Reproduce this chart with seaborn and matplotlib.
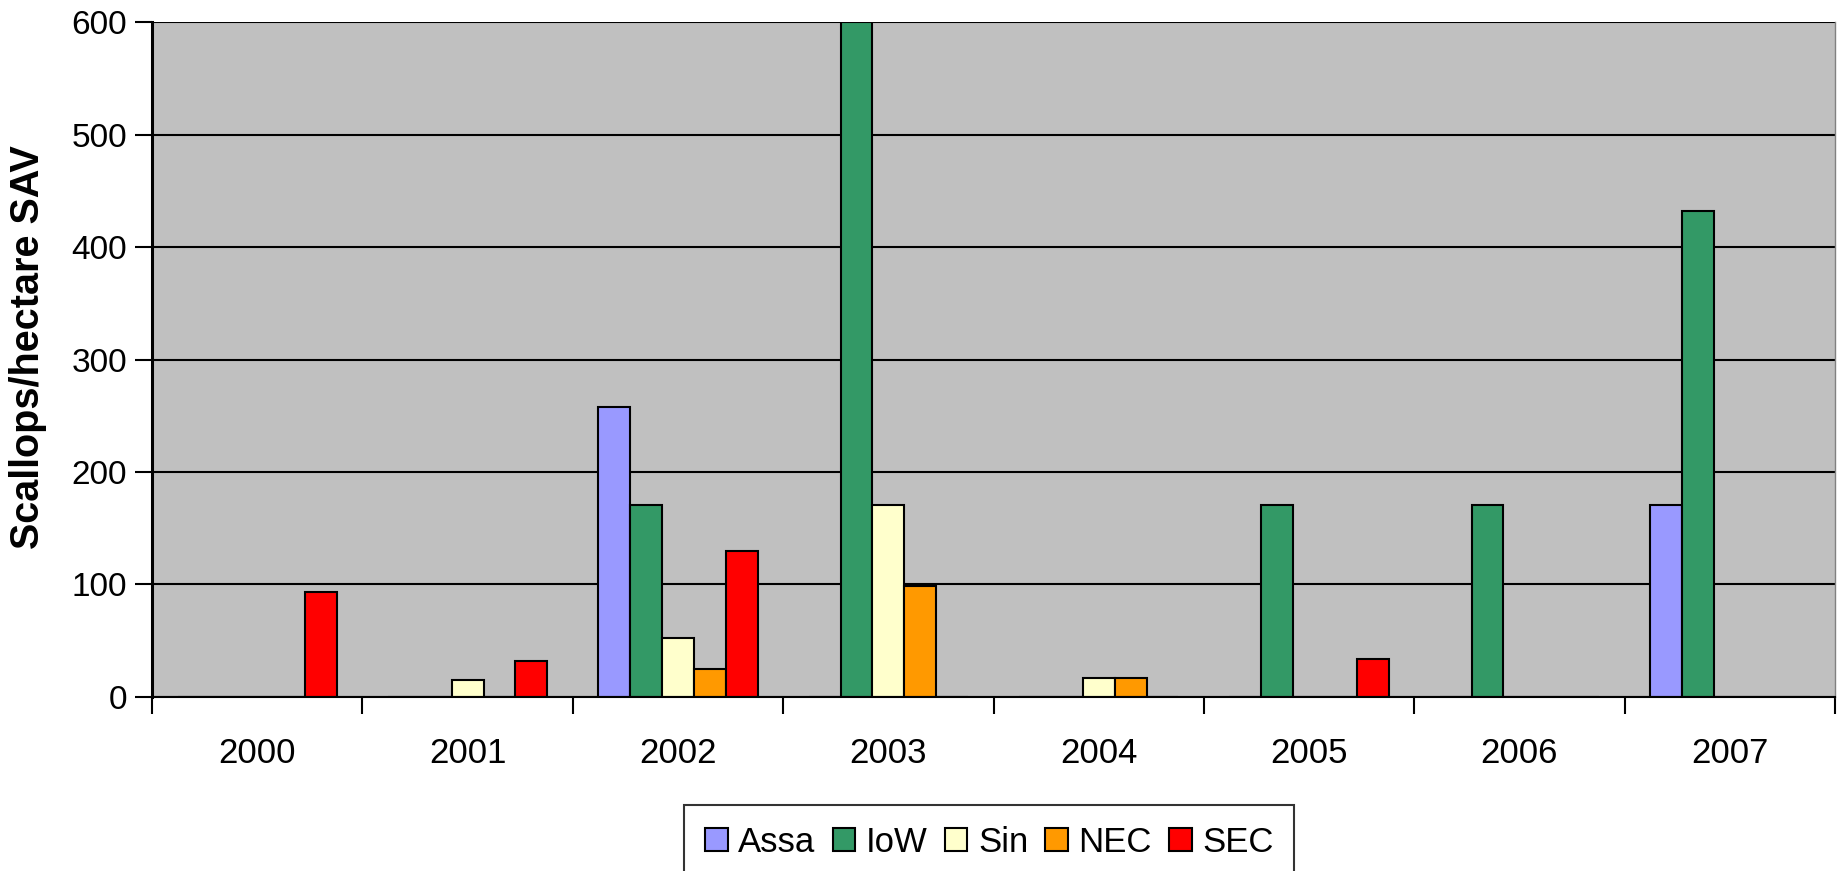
import numpy as np
import pandas as pd
import matplotlib
matplotlib.use('Agg')
import matplotlib.pyplot as plt
import seaborn as sns

fontsize = 24

years = ['2000', '2001', '2002', '2003', '2004', '2005', '2006', '2007']
sites = ['Assa', 'IoW', 'Sin', 'NEC', 'SEC']

assa = [0, 0, 258, 0, 0, 0, 0, 171]
iow = [0, 0, 171, 600, 0, 171, 171, 432]
sin = [0, 15, 52, 171, 17, 0, 0, 0]
nec = [0, 0, 25, 99, 17, 0, 0, 0]
sec = [93, 32, 130, 0, 0, 34, 0, 0]

colors = ['#9999FF', '#339966', '#FFFFCC', '#FF9900', '#FF0000']

rows = []
for site, vals in zip(sites, [assa, iow, sin, nec, sec]):
    for y, v in zip(years, vals):
        rows.append({'year': y, 'site': site, 'density': v})
df = pd.DataFrame(rows)

plt.rcParams['font.family'] = ['Liberation Sans', 'DejaVu Sans']
plt.rcParams['font.size'] = fontsize

fig = plt.figure(figsize=(18.39, 8.71), dpi=100)
ax = fig.add_axes([0.0827, 0.1998, 0.9151, 0.7749])
ax.set_facecolor('#C0C0C0')

sns.barplot(
    data=df, x='year', y='density', hue='site',
    order=years, hue_order=sites, palette=colors,
    width=0.758, edgecolor='black', linewidth=1.5,
    saturation=1, errorbar=None, ax=ax,
)

ax.set_ylim(0, 600)
ax.set_xlim(-0.5, 7.5)
ax.set_yticks(range(0, 601, 100))
ax.yaxis.grid(True, color='black', linewidth=1.5)
ax.set_axisbelow(True)

# year labels centred, ticks between the categories
ax.set_xticks(range(len(years)))
ax.set_xticklabels(years)
ax.set_xticks(np.arange(-0.5, len(years), 1.0), minor=True)
ax.tick_params(axis='x', which='major', length=0, pad=29, labelsize=25)
ax.tick_params(axis='x', which='minor', length=12, width=1.5, color='black', direction='out')
ax.tick_params(axis='y', length=12, width=1.5, direction='out', pad=6, labelsize=24)

ax.spines['top'].set_visible(False)
ax.spines['left'].set_linewidth(2.2)
ax.spines['bottom'].set_linewidth(1.5)
ax.spines['right'].set_color('#808080')
ax.spines['right'].set_linewidth(1)

ax.set_xlabel('')
ax.set_ylabel('Scallops/hectare SAV', fontsize=28.5, fontweight='bold')
ax.yaxis.set_label_coords(-0.0625, 0.518)

handles, labels = ax.get_legend_handles_labels()
ax.legend().remove()
leg = fig.legend(handles, labels, loc='upper center', bbox_to_anchor=(0.538, 0.0758),
                 ncol=5, fontsize=25, frameon=True, fancybox=False,
                 edgecolor='black', borderaxespad=0, handlelength=0.65, handleheight=0.65,
                 handletextpad=0.3, columnspacing=0.5, borderpad=0.6)
leg.get_frame().set_linewidth(1.5)

fig.savefig('out.png', dpi=100)
